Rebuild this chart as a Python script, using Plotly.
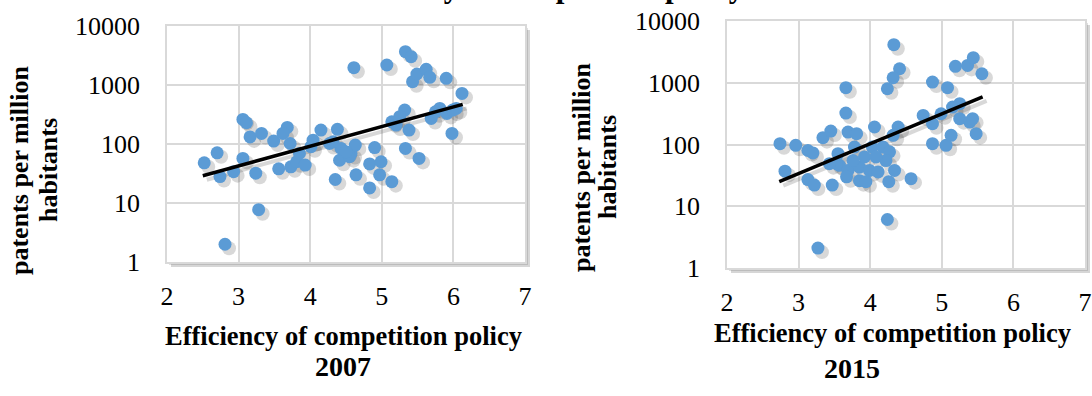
import plotly.graph_objects as go

# ---------------- data ----------------
x_2007 = [2.52, 2.70, 2.74, 2.93, 2.81, 3.06, 3.06, 3.11, 3.24, 3.28,
          3.16, 3.32, 3.49, 3.56, 3.68, 3.62, 3.72, 3.73, 3.81, 3.93,
          4.04, 4.15, 4.27, 4.38, 4.41, 4.35, 4.43, 4.57, 4.63, 4.64,
          4.55, 4.83, 4.90, 4.99, 4.97, 4.83, 5.14, 5.14, 5.20, 5.32,
          5.38, 5.33, 5.52, 5.69, 5.81, 5.91, 6.04, 5.98, 6.12, 4.61,
          5.07, 5.33, 5.41, 5.43, 5.49, 5.62, 5.67, 5.90, 3.85, 4.01,
          4.32, 4.50, 5.75, 5.99, 5.25]
y_2007 = [48, 71, 28, 34, 2, 57, 261, 229, 32, 7.7,
          132, 151, 112, 38, 191, 151, 102, 41, 50, 44,
          116, 172, 102, 177, 53, 25, 84, 69, 96, 30,
          61, 46, 87, 50, 30, 18, 23, 238, 209, 376,
          172, 84, 57, 271, 401, 330, 401, 151, 721, 1966,
          2183, 3675, 3020, 1138, 1536, 1841, 1348, 1297, 69, 90,
          109, 74, 352, 376, 290]

x_2015 = [2.74, 2.96, 3.13, 3.20, 2.81, 3.13, 3.22, 3.47, 3.27, 3.34,
          3.45, 3.66, 3.66, 3.55, 3.69, 3.81, 3.78, 3.57, 3.69, 3.85,
          3.85, 3.99, 4.11, 4.06, 4.03, 4.18, 4.27, 4.22, 4.34, 4.26,
          4.57, 4.39, 4.32, 4.74, 4.87, 5.06, 5.13, 4.99, 4.87, 5.25,
          5.39, 5.48, 3.53, 3.67, 3.94, 4.33, 4.41, 4.32, 4.24, 4.87,
          5.08, 5.19, 5.36, 5.44, 5.56, 4.24, 5.25, 5.43, 5.15, 3.92,
          4.08, 3.76, 3.43]
y_2015 = [103, 97, 80, 73, 37, 27, 22, 22, 2.1, 129,
          165, 831, 323, 71, 159, 150, 91, 46, 38, 43,
          26, 38, 36, 192, 91, 91, 76, 55, 38, 25,
          28, 192, 141, 296, 103, 97, 141, 315, 217, 262,
          231, 150, 49, 30, 25, 4130, 1687, 1206, 800, 1025,
          831, 1842, 1910, 2543, 1400, 6.1, 458, 262, 404, 63,
          63, 55, 49]

trend_x_2007 = [2.50, 6.13]
trend_y_2007 = [29, 470]
trend_x_2015 = [2.73, 5.57]
trend_y_2015 = [25, 590]

x_ticks = [2, 3, 4, 5, 6, 7]
y_ticks = [1, 10, 100, 1000, 10000]
y_ticktext = ["1", "10", "100", "1000", "10000"]

x_title = "Efficiency of competition policy"
y_title_lines = ["patents per million", "habitants"]
panel_years = ["2007", "2015"]
top_title = "Patents and efficiency of competition policy"

# ---------------- styling / geometry ----------------
W, H = 1092, 396
FONT = "Liberation Serif"
BLUE = "#5B9BD5"
GRID = "#D9D9D9"
CLEAR = "rgba(0,0,0,0)"

# plot boxes in pixels: (left, right, top, bottom)
boxes = [(167, 525, 26, 262), (727, 1085, 21, 268)]


def px(p):
    return p / W


def py(p):
    return 1 - p / H


def ax_name(n, a):
    return f"{a}axis" if n == 1 else f"{a}axis{n}"


def ref(n, a):
    return a if n == 1 else f"{a}{n}"


fig = go.Figure()
layout = dict(
    width=W, height=H,
    margin=dict(l=0, r=0, t=0, b=0, pad=0, autoexpand=False),
    paper_bgcolor="white", plot_bgcolor=CLEAR,
    showlegend=False, font=dict(family=FONT, color="black"),
)

shapes = []
annotations = []
datasets = [(x_2007, y_2007, trend_x_2007, trend_y_2007),
            (x_2015, y_2015, trend_x_2015, trend_y_2015)]

for i, (box, (xs, ys, tx, ty)) in enumerate(zip(boxes, datasets)):
    L, R, T, B = box
    base = i + 1            # 1 / 2  : visible axes (grid, ticks)
    shad = i + 3            # 3 / 4  : shadow layer (same box)
    main = i + 5            # 5 / 6  : marker layer (same box)
    xs_per = (R - L) / 5.0
    ys_per = (B - T) / 4.0
    dx = 4 / xs_per
    dy = 4 / ys_per
    xdom = [px(L), px(R)]
    ydom = [py(B), py(T)]

    layout[ax_name(base, "x")] = dict(
        domain=xdom, range=[2, 7], anchor=ref(base, "y"),
        tickmode="array", tickvals=x_ticks,
        ticks="outside", ticklen=10, tickcolor=CLEAR,
        showgrid=True, gridcolor=GRID, gridwidth=1.5,
        showline=True, mirror=True, linecolor=GRID, linewidth=1.5,
        zeroline=False, automargin=False,
        tickfont=dict(size=26, family=FONT, color="black"),
    )
    layout[ax_name(base, "y")] = dict(
        domain=ydom, type="log", range=[0, 4], anchor=ref(base, "x"),
        tickmode="array", tickvals=y_ticks, ticktext=y_ticktext,
        ticks="outside", ticklen=20, tickcolor=CLEAR,
        showgrid=True, gridcolor=GRID, gridwidth=1.5,
        showline=True, mirror=True, linecolor=GRID, linewidth=1.5,
        zeroline=False, automargin=False,
        tickfont=dict(size=26, family=FONT, color="black"),
    )
    # shadow layer: shifted range -> marks drawn a few px right / down
    layout[ax_name(shad, "x")] = dict(
        domain=xdom, range=[2 - dx, 7 - dx], visible=False,
        showgrid=False, zeroline=False, anchor=ref(shad, "y"))
    layout[ax_name(shad, "y")] = dict(
        domain=ydom, type="log", range=[0 + dy, 4 + dy], visible=False,
        showgrid=False, zeroline=False, anchor=ref(shad, "x"))
    layout[ax_name(main, "x")] = dict(
        domain=xdom, range=[2, 7], visible=False,
        showgrid=False, zeroline=False, anchor=ref(main, "y"))
    layout[ax_name(main, "y")] = dict(
        domain=ydom, type="log", range=[0, 4], visible=False,
        showgrid=False, zeroline=False, anchor=ref(main, "x"))

    # invisible trace so the base (grid / tick) subplot is always drawn
    fig.add_trace(go.Scatter(
        x=tx, y=ty, mode="lines", xaxis=ref(base, "x"), yaxis=ref(base, "y"),
        line=dict(color=CLEAR, width=0), hoverinfo="skip"))
    fig.add_trace(go.Scatter(
        x=xs, y=ys, mode="markers", xaxis=ref(shad, "x"), yaxis=ref(shad, "y"),
        marker=dict(size=14, color="rgba(40,40,40,0.18)", line=dict(width=0)),
        hoverinfo="skip", cliponaxis=False))
    fig.add_trace(go.Scatter(
        x=tx, y=ty, mode="lines", xaxis=ref(shad, "x"), yaxis=ref(shad, "y"),
        line=dict(color="rgba(40,40,40,0.18)", width=4), hoverinfo="skip"))
    fig.add_trace(go.Scatter(
        x=xs, y=ys, mode="markers", xaxis=ref(main, "x"), yaxis=ref(main, "y"),
        marker=dict(size=13, color=BLUE, line=dict(width=0)), cliponaxis=False))
    fig.add_trace(go.Scatter(
        x=tx, y=ty, mode="lines", xaxis=ref(main, "x"), yaxis=ref(main, "y"),
        line=dict(color="black", width=3.5)))

    # plot-area drop shadow + white frame
    shapes.append(dict(type="rect", xref="paper", yref="paper", layer="below",
                       x0=px(L + 4), x1=px(R + 5), y0=py(B + 5), y1=py(T + 4),
                       fillcolor="rgba(0,0,0,0.16)", line=dict(width=0)))
    shapes.append(dict(type="rect", xref="paper", yref="paper", layer="below",
                       x0=px(L + 2), x1=px(R + 3), y0=py(B + 3), y1=py(T + 2),
                       fillcolor="rgba(0,0,0,0.12)", line=dict(width=0)))
    shapes.append(dict(type="rect", xref="paper", yref="paper", layer="below",
                       x0=px(L), x1=px(R), y0=py(B), y1=py(T),
                       fillcolor="white", line=dict(width=0)))

# axis titles & panel labels
ytitle_pos = [((19, 48), 170), ((581, 607), 167)]
xtitle_pos = [(343, 336), (892, 333)]
year_pos = [(343, 366), (852, 368)]
for ((yx1, yx2), yy), (xx, xy), (gx, gy), yr in zip(ytitle_pos, xtitle_pos, year_pos, panel_years):
    for line_text, lx in zip(y_title_lines, (yx1, yx2)):
        annotations.append(dict(text=line_text, textangle=-90, x=px(lx), y=py(yy),
                                xref="paper", yref="paper", showarrow=False,
                                xanchor="center", yanchor="middle",
                                font=dict(size=26, family=FONT, weight="bold")))
    annotations.append(dict(text=x_title, x=px(xx), y=py(xy),
                            xref="paper", yref="paper", showarrow=False,
                            xanchor="center", yanchor="middle",
                            font=dict(size=26.5, family=FONT, weight="bold")))
    annotations.append(dict(text=yr, x=px(gx), y=py(gy),
                            xref="paper", yref="paper", showarrow=False,
                            xanchor="center", yanchor="middle",
                            font=dict(size=28, family=FONT, weight="bold")))

# clipped headline at very top (only descenders visible)
annotations.append(dict(text=top_title, x=px(457), y=py(6),
                        xref="paper", yref="paper", showarrow=False,
                        xanchor="center", yanchor="bottom",
                        font=dict(size=31, family=FONT, weight="bold")))

layout["shapes"] = shapes
layout["annotations"] = annotations
fig.update_layout(**layout)
fig.write_html(
    "out.html",
    config={"displayModeBar": False},
    post_script="document.body.style.margin='0';"
                "document.body.style.overflow='hidden';",
)
